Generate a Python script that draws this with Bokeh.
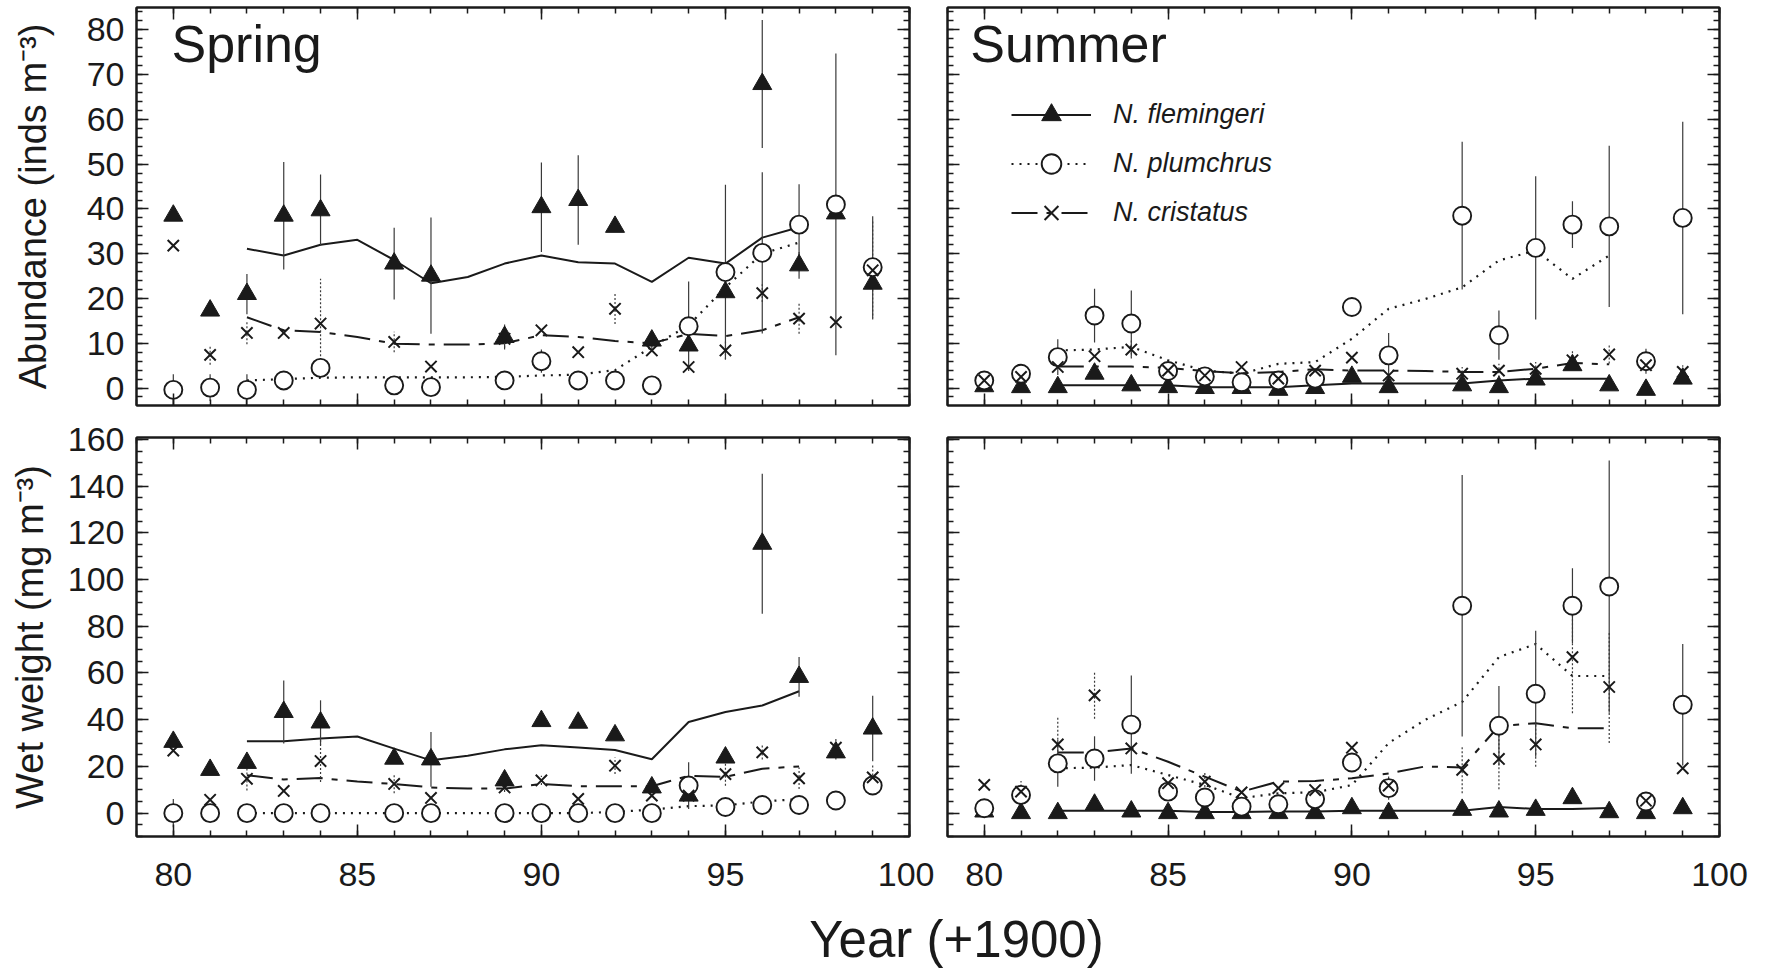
from bokeh.plotting import figure
from bokeh.layouts import column, row
from bokeh.models import (Range1d, LinearAxis, SingleIntervalTicker, CustomJSTickFormatter,
                          Label, Legend, LegendItem)
from bokeh.embed import file_html
from bokeh.resources import INLINE

FONT = "Liberation Sans"
INK = "#1a1a1a"
BAR = "#3a3a3a"

# ---------------- data ----------------
years_spring = [80, 81, 82, 83, 84, 86, 87, 89, 90, 91, 92, 93, 94, 95, 96, 97, 98, 99]
years_summer = [80, 81, 82, 83, 84, 85, 86, 87, 88, 89, 90, 91, 93, 94, 95, 96, 97, 98, 99]
years_trend = [82, 83, 84, 85, 86, 87, 88, 89, 90, 91, 92, 93, 94, 95, 96, 97]

# Spring abundance (inds m-3)
fl_spring_abund = [38.5, 17.3, 21.0, 38.5, 39.7, 27.8, 25.1, 11.4, 40.4, 42.0, 36.0, 10.6, 9.5, 21.4, 67.9, 27.4, 39.0, 23.3]
fl_spring_abund_err = [0, 0, 4.5, 12, 8, 8, 13, 2.8, 10, 10, 0, 2, 0, 0, 14.3, 3, 0, 0]
pl_spring_abund = [-0.4, 0.1, -0.4, 1.7, 4.5, 0.6, 0.2, 1.7, 6.0, 1.7, 1.7, 0.6, 13.8, 25.9, 30.2, 36.5, 41.0, 27.0]
pl_spring_abund_err = [3.5, 3, 3.5, 0, 0, 0, 0, 0, 2.6, 0, 0, 0, 10, 19.5, 18, 9, 33.7, 11.4]
cr_spring_abund = [31.8, 7.4, 12.3, 12.3, 14.4, 10.3, 4.8, 11.0, 12.9, 8.0, 17.7, 8.4, 4.7, 8.4, 21.2, 15.5, 14.7, 26.3]
cr_spring_abund_err = [0, 2.2, 2.5, 0, 10, 2.3, 0, 2, 0, 0, 3.4, 0, 0, 2, 2, 3.4, 0, 11]
fl_spring_abund_trend = [31.1, 29.6, 32.0, 33.1, 28.6, 23.4, 24.8, 27.8, 29.6, 28.1, 27.8, 23.7, 29.1, 27.8, 33.6, 35.9]
pl_spring_abund_trend = [1.7, 2.0, 2.3, 2.4, 2.4, 2.4, 2.4, 2.5, 2.8, 3.0, 4.0, 9.2, 14.0, 22.5, 30.0, 32.5]
cr_spring_abund_trend = [15.8, 12.9, 12.5, 11.4, 9.9, 9.7, 9.7, 10.0, 11.8, 11.4, 10.5, 10.0, 12.1, 11.6, 12.9, 15.8]

# Summer abundance (inds m-3)
fl_summer_abund = [0.4, 0.2, 0.2, 3.2, 0.6, 0.2, 0.0, 0.0, -0.4, 0.0, 2.5, 0.2, 0.6, 0.2, 1.9, 5.1, 0.6, -0.4, 2.1]
pl_summer_abund = [1.7, 3.2, 6.9, 16.2, 14.4, 3.8, 2.6, 1.3, 1.7, 2.1, 18.1, 7.3, 38.5, 11.8, 31.3, 36.5, 36.1, 6.0, 38.0]
pl_summer_abund_err = [0, 0, 4, 6, 7.4, 0, 0, 0, 0, 0, 0, 5, 16.5, 5.5, 16, 5.2, 18, 2.8, 21.5]
cr_summer_abund = [1.7, 2.5, 4.7, 7.1, 8.6, 3.9, 2.8, 4.7, 2.1, 3.9, 6.8, 2.8, 3.2, 3.9, 4.3, 6.2, 7.5, 5.1, 3.6]
cr_summer_abund_err = [0, 0, 0, 0, 2, 0, 1.5, 0, 0, 0, 0, 0, 1.5, 1.5, 1.5, 2, 2, 0, 1.5]
fl_summer_abund_trend = [0.6, 0.6, 0.6, 0.6, 0.2, 0.2, 0.2, 0.6, 1.0, 1.0, 1.0, 1.0, 1.7, 2.1, 2.1, 2.1]
pl_summer_abund_trend = [8.4, 8.6, 9.2, 6.2, 3.9, 3.2, 5.4, 5.8, 11.0, 17.7, 19.9, 22.5, 28.5, 30.7, 24.4, 29.6]
cr_summer_abund_trend = [4.8, 4.8, 4.8, 4.5, 3.8, 3.3, 3.6, 4.2, 3.9, 3.9, 3.8, 3.6, 3.6, 4.3, 5.6, 5.3]

# Spring wet weight (mg m-3)
fl_spring_ww = [30.5, 18.5, 21.5, 43.3, 38.8, 23.3, 23.0, 14.0, 39.4, 38.7, 33.3, 11.0, 7.5, 23.8, 115.3, 58.3, 26.0, 36.2]
fl_spring_ww_err = [0, 0, 0, 13.5, 9.5, 0, 11.7, 0, 0, 0, 0, 0, 0, 0, 30, 8.5, 3, 14]
pl_spring_ww = [0, 0, 0, 0, 0, 0, 0, 0, 0, 0, 0, 0, 11.8, 2.6, 3.5, 3.5, 5.4, 11.8]
pl_spring_ww_err = [6, 0, 0, 0, 0, 0, 0, 0, 3, 0, 0, 0, 10, 3, 0, 0, 0, 3]
cr_spring_ww = [26.8, 5.7, 14.7, 9.5, 22.3, 12.5, 6.5, 11.0, 14.0, 6.1, 20.3, 7.5, 7.5, 16.7, 26.0, 14.9, 28.0, 15.3]
cr_spring_ww_err = [0, 0, 5, 0, 9, 4, 0, 2, 2, 0, 3.5, 0, 0, 5, 3, 4.6, 4, 6]
fl_spring_ww_trend = [30.8, 30.8, 32.0, 32.8, 27.6, 22.6, 24.6, 27.3, 29.1, 28.1, 27.0, 23.1, 39.0, 43.3, 46.1, 52.2]
pl_spring_ww_trend = [0, 0, 0, 0, 0, 0, 0, 0, 0, 0, 0.5, 1.5, 3.0, 3.3, 5.0, 6.0]
cr_spring_ww_trend = [16.2, 14.4, 15.0, 13.5, 12.5, 11.0, 10.5, 10.5, 12.5, 11.5, 11.5, 11.5, 16.0, 15.5, 19.0, 20.0]

# Summer wet weight (mg m-3)
fl_summer_ww = [0.7, 0, 0, 3.6, 0.7, 0, 0, 0, 0, 0, 2.1, 0, 1.4, 0.7, 1.4, 6.4, 0.4, 0, 2.1]
pl_summer_ww = [2.1, 7.8, 21.3, 23.4, 37.9, 9.2, 6.7, 2.8, 3.8, 6.0, 21.7, 10.7, 88.8, 37.4, 51.1, 88.8, 97.0, 5.0, 46.4]
pl_summer_ww_err = [0, 0, 10, 9.5, 21, 0, 0, 0, 0, 0, 0, 5, 56, 17, 27, 16, 54, 0, 26]
cr_summer_ww = [12.1, 9.2, 29.4, 50.4, 27.7, 12.8, 13.5, 8.9, 10.7, 9.9, 28.0, 11.8, 18.5, 23.2, 29.4, 66.8, 54.0, 5.3, 19.2]
cr_summer_ww_err = [0, 4.6, 11.7, 10, 0, 0, 4, 0, 0, 0, 0, 3, 10, 13, 9.5, 24, 24, 0, 0]
fl_summer_ww_trend = [1.0, 1.0, 1.0, 1.0, 0.5, 0.5, 0.7, 0.7, 1.0, 1.0, 1.0, 1.0, 2.6, 1.8, 1.8, 2.2]
pl_summer_ww_trend = [19.2, 19.5, 20.6, 16.3, 12.1, 6.4, 8.5, 8.9, 12.0, 30.0, 40.0, 47.6, 66.8, 72.4, 58.7, 58.7]
cr_summer_ww_trend = [26.0, 26.0, 27.7, 22.0, 15.6, 9.2, 13.5, 13.8, 14.9, 17.0, 20.0, 19.5, 37.3, 38.5, 36.3, 36.3]

species = ["N. flemingeri", "N. plumchrus", "N. cristatus"]
x_ticks_interval = 5
year_range = (79, 100)

TICK_FONT = "34px"
DOT = "2 6"
DASHDASH = "26 9 6 9"


def style_axis(ax, show):
    ax.axis_line_color = INK
    ax.axis_line_width = 2
    ax.major_tick_in = 12
    ax.major_tick_out = 0
    ax.minor_tick_in = 6
    ax.minor_tick_out = 0
    ax.major_tick_line_color = INK
    ax.major_tick_line_width = 1.5
    ax.minor_tick_line_color = INK
    ax.minor_tick_line_width = 1.5
    if show:
        ax.major_label_text_font = FONT
        ax.major_label_text_font_size = TICK_FONT
        ax.major_label_text_color = INK
    else:
        ax.formatter = CustomJSTickFormatter(code="return ''")
        ax.major_label_standoff = 0


def panel(width, height, bl, br, bt, bb, yr, yint, yminor, ylab_show, xlab_show,
          ytitle=None, ytitle_standoff=0, xlab_standoff=26):
    p = figure(width=width, height=height, x_range=Range1d(*year_range), y_range=Range1d(*yr),
               x_axis_type=None, y_axis_type=None, output_backend="svg", toolbar_location=None,
               min_border_left=bl, min_border_right=br, min_border_top=bt, min_border_bottom=bb)
    p.outline_line_color = INK
    p.outline_line_width = 2
    p.background_fill_color = "white"
    p.border_fill_color = "white"
    for side in ("below", "above"):
        ax = LinearAxis(ticker=SingleIntervalTicker(interval=x_ticks_interval, num_minor_ticks=5))
        show = side == "below" and xlab_show
        style_axis(ax, show)
        if show:
            ax.major_label_standoff = xlab_standoff
        p.add_layout(ax, side)
    for side in ("left", "right"):
        ax = LinearAxis(ticker=SingleIntervalTicker(interval=yint, num_minor_ticks=yminor))
        show = side == "left" and ylab_show
        style_axis(ax, show)
        if show:
            ax.major_label_standoff = 12
            if ytitle:
                ax.axis_label = ytitle
                ax.axis_label_text_font = FONT
                ax.axis_label_text_font_size = "38px"
                ax.axis_label_text_font_style = "normal"
                ax.axis_label_text_color = INK
                ax.axis_label_standoff = ytitle_standoff
        p.add_layout(ax, side)
    return p


def errbars(p, xs, ys, errs, dash):
    xx = [x for x, e in zip(xs, errs) if e > 0]
    lo = [y - e for y, e in zip(ys, errs) if e > 0]
    hi = [y + e for y, e in zip(ys, errs) if e > 0]
    p.segment(x0=xx, y0=lo, x1=xx, y1=hi, line_color=BAR, line_width=1.2, line_dash=dash)


def draw(p, years, fl, fl_err, pl, pl_err, cr, cr_err, fl_tr, pl_tr, cr_tr):
    l1 = p.line(years_trend, fl_tr, line_color=INK, line_width=2)
    l2 = p.line(years_trend, pl_tr, line_color=INK, line_width=2.2, line_dash=DOT)
    l3 = p.line(years_trend, cr_tr, line_color=INK, line_width=2, line_dash=DASHDASH)
    if fl_err:
        errbars(p, years, fl, fl_err, "solid")
    if pl_err:
        errbars(p, years, pl, pl_err, "solid")
    if cr_err:
        errbars(p, years, cr, cr_err, "2 2")
    m1 = p.scatter(years, fl, marker="triangle", size=19, fill_color=INK, line_color=INK, line_width=1)
    m2 = p.scatter(years, pl, marker="circle", size=18, fill_color="white", line_color=INK, line_width=1.9)
    m3 = p.scatter(years, cr, marker="x", size=16, line_color=INK, line_width=2)
    return (l1, m1), (l2, m2), (l3, m3)


# ---------------- panels ----------------
top_yr = (-3.9, 85.0)
bot_yr = (-10.0, 160.8)

p_sa = panel(934, 421, 136, 25, 7, 16, top_yr, 10, 5, True, False,
             ytitle="Abundance (inds m\u207b\u00b3)", ytitle_standoff=30)
draw(p_sa, years_spring, fl_spring_abund, fl_spring_abund_err, pl_spring_abund, pl_spring_abund_err,
     cr_spring_abund, cr_spring_abund_err, fl_spring_abund_trend, pl_spring_abund_trend, cr_spring_abund_trend)
p_sa.add_layout(Label(x=79.95, y=76.8, text="Spring", text_font=FONT, text_font_size="52px",
                      text_color=INK, text_baseline="middle", text_align="left"))

p_ua = panel(835, 421, 13, 50, 7, 16, top_yr, 10, 5, False, False)
legend_parts = draw(p_ua, years_summer, fl_summer_abund, None, pl_summer_abund, pl_summer_abund_err,
                    cr_summer_abund, cr_summer_abund_err, fl_summer_abund_trend, pl_summer_abund_trend,
                    cr_summer_abund_trend)
p_ua.add_layout(Label(x=79.62, y=76.8, text="Summer", text_font=FONT, text_font_size="52px",
                      text_color=INK, text_baseline="middle", text_align="left"))
legend = Legend(items=[LegendItem(label=name, renderers=list(r)) for name, r in zip(species, legend_parts)],
                location=(64, 168), orientation="vertical",
                glyph_width=80, glyph_height=49, label_standoff=22, spacing=0, padding=0, margin=0,
                label_text_font=FONT, label_text_font_size="27px", label_text_font_style="italic",
                label_text_color=INK, background_fill_alpha=0, border_line_alpha=0)
p_ua.add_layout(legend)

p_sw = panel(934, 479, 136, 25, 16, 64, bot_yr, 20, 4, True, True,
             ytitle="Wet weight (mg m\u207b\u00b3)", ytitle_standoff=14)
draw(p_sw, years_spring, fl_spring_ww, fl_spring_ww_err, pl_spring_ww, pl_spring_ww_err,
     cr_spring_ww, cr_spring_ww_err, fl_spring_ww_trend, pl_spring_ww_trend, cr_spring_ww_trend)

p_uw = panel(835, 479, 13, 50, 16, 64, bot_yr, 20, 4, False, True)
draw(p_uw, years_summer, fl_summer_ww, None, pl_summer_ww, pl_summer_ww_err,
     cr_summer_ww, cr_summer_ww_err, fl_summer_ww_trend, pl_summer_ww_trend, cr_summer_ww_trend)

# bottom shared axis title
p_title = figure(width=1769, height=72, x_range=Range1d(0, 1769), y_range=Range1d(0, 72),
                 x_axis_type=None, y_axis_type=None, output_backend="svg", toolbar_location=None,
                 min_border=0)
p_title.outline_line_color = None
p_title.add_layout(Label(x=956, y=33, text="Year (+1900)", text_font=FONT, text_font_size="51px",
                         text_color=INK, text_align="center", text_baseline="middle"))

layout = column(row(p_sa, p_ua), row(p_sw, p_uw), p_title)

open("out.html", "w").write(file_html(layout, INLINE))
